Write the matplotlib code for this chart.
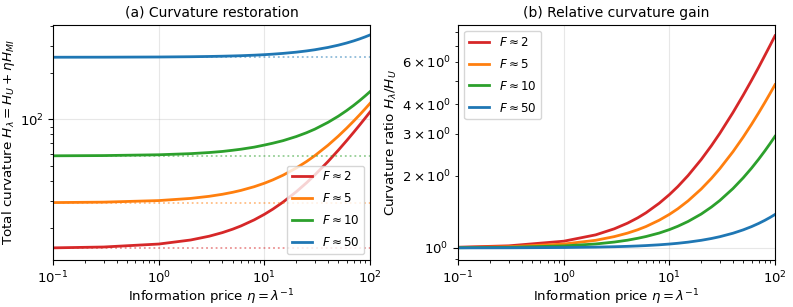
import matplotlib
matplotlib.use('Agg')
import matplotlib.pyplot as plt

plt.rcParams['font.size'] = 9.5

# values
eta = [0.1, 0.3, 1, 2, 3, 4, 5, 6, 8, 10, 12, 15, 20, 25, 30, 40, 50, 60, 70, 80, 90, 100]
labels = [r'$F \approx 2$', r'$F \approx 5$', r'$F \approx 10$', r'$F \approx 50$']
colors = ['#d62728', '#ff7f0e', '#2ca02c', '#1f77b4']

# baseline curvature H_U (dotted lines)
h_u = [14.75, 29.0, 58.2, 252.0]

# (a) total curvature
h_red = [14.85, 15.04, 15.72, 16.69, 17.66, 18.63, 19.60, 20.57, 22.51, 24.45, 26.39,
         29.30, 34.15, 39.00, 43.85, 53.55, 63.25, 72.95, 82.65, 92.35, 102.05, 111.75]
h_orange = [29.10, 29.29, 29.98, 30.96, 31.94, 32.92, 33.90, 34.88, 36.84, 38.80, 40.76,
            43.70, 48.60, 53.50, 58.40, 68.20, 78.00, 87.80, 97.60, 107.40, 117.20, 127.00]
h_green = [58.3, 58.5, 59.2, 60.2, 61.2, 62.2, 63.3, 64.3, 66.3, 68.4, 70.3,
           73.0, 77.6, 82.1, 86.6, 95.8, 104.9, 114.1, 123.3, 132.6, 141.9, 151.2]
h_blue = [252.1, 252.3, 253.0, 254.0, 255.0, 256.0, 257.0, 257.9, 259.9, 261.9, 263.9,
          266.9, 271.8, 276.8, 281.7, 291.6, 301.5, 311.4, 321.3, 331.2, 341.1, 351.0]

# (b) ratio H_lambda / H_U
r_red = [1.0067, 1.0202, 1.067, 1.134, 1.202, 1.269, 1.336, 1.403, 1.538, 1.672, 1.806,
         2.008, 2.344, 2.680, 3.016, 3.688, 4.36, 5.03, 5.70, 6.38, 7.05, 7.72]
r_orange = [1.0038, 1.0115, 1.038, 1.076, 1.115, 1.153, 1.191, 1.229, 1.306, 1.382, 1.458,
            1.573, 1.764, 1.955, 2.146, 2.528, 2.91, 3.292, 3.674, 4.056, 4.438, 4.82]
r_green = [1.0019, 1.0058, 1.0193, 1.0386, 1.058, 1.077, 1.097, 1.116, 1.154, 1.193, 1.232,
           1.29, 1.386, 1.483, 1.579, 1.772, 1.965, 2.158, 2.351, 2.544, 2.737, 2.93]
r_blue = [1.0004, 1.0011, 1.0038, 1.0076, 1.0114, 1.0152, 1.019, 1.0228, 1.0304, 1.038, 1.0456,
          1.057, 1.076, 1.095, 1.114, 1.152, 1.19, 1.228, 1.266, 1.304, 1.342, 1.38]

totals = [h_red, h_orange, h_green, h_blue]
ratios = [r_red, r_orange, r_green, r_blue]

fig = plt.figure(figsize=(7.93, 3.07), dpi=100)
ax1 = fig.add_axes([0.0672, 0.1531, 0.3994, 0.7655])
ax2 = fig.add_axes([0.578, 0.1531, 0.3993, 0.7655])

for y, base, c, lab in zip(totals, h_u, colors, labels):
    ax1.plot(eta, y, color=c, lw=2, label=lab)
    ax1.axhline(base, color=c, ls=':', lw=1.3, alpha=0.5)

for y, c, lab in zip(ratios, colors, labels):
    ax2.plot(eta, y, color=c, lw=2, label=lab)

leg_kw = dict(fontsize=8.6, handlelength=1.7, labelspacing=0.75)

ax1.set_xscale('log')
ax1.set_yscale('log')
ax1.set_xlim(0.1, 100)
ax1.set_ylim(12.4, 407)
ax1.set_xlabel(r'Information price $\eta = \lambda^{-1}$', fontsize=9.5, labelpad=1)
ax1.set_ylabel(r'Total curvature $H_\lambda = H_U + \eta H_{MI}$', fontsize=9.7, labelpad=2)
ax1.set_title('(a) Curvature restoration', fontsize=10)
ax1.legend(loc='lower right', **leg_kw)
ax1.grid(True, alpha=0.3)

ax2.set_xscale('log')
ax2.set_yscale('log')
ax2.set_xlim(0.1, 100)
ax2.set_ylim(0.89, 8.57)
ax2.set_xlabel(r'Information price $\eta = \lambda^{-1}$', fontsize=9.5, labelpad=1)
ax2.set_ylabel(r'Curvature ratio $H_\lambda / H_U$', fontsize=9.7, labelpad=2)
ax2.set_title('(b) Relative curvature gain', fontsize=10)
ax2.legend(loc='upper left', **leg_kw)
ax2.grid(True, alpha=0.3)

plt.savefig('out.png', dpi=100)
